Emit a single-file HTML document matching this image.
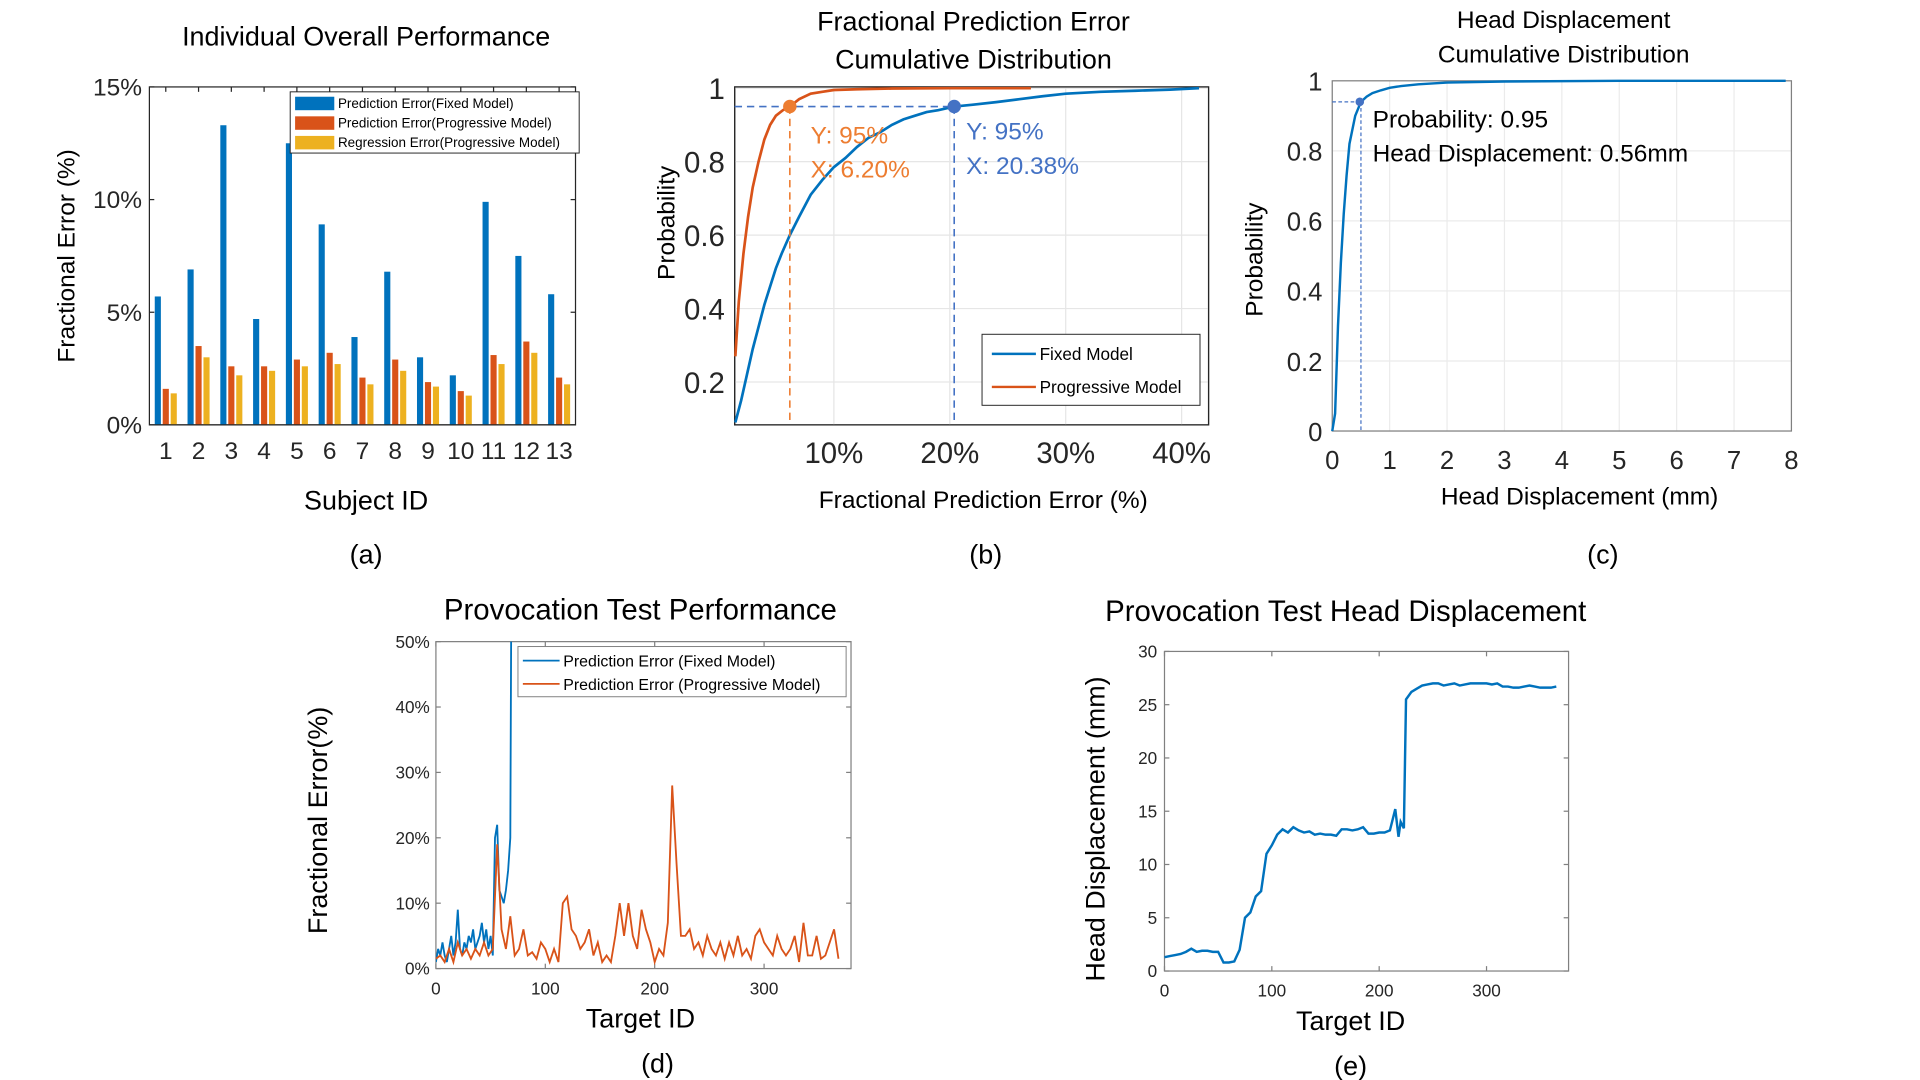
<!DOCTYPE html>
<html><head><meta charset="utf-8"><style>
html,body{margin:0;padding:0;background:#fff;}
svg{display:block;font-family:"Liberation Sans",sans-serif;}
.t{font-family:"Liberation Sans",sans-serif;fill:#000;}
.tk{fill:#262626;}
</style></head><body>
<svg id="fig" width="1920" height="1080" viewBox="0 0 1568 882" preserveAspectRatio="none" xmlns="http://www.w3.org/2000/svg"></svg>
<script>
// ---- Panel (a) data ----
const subjects = ["1","2","3","4","5","6","7","8","9","10","11","12","13"];
const fixedErr = [5.7,6.9,13.3,4.7,12.5,8.9,3.9,6.8,3.0,2.2,9.9,7.5,5.8];
const progErr  = [1.6,3.5,2.6,2.6,2.9,3.2,2.1,2.9,1.9,1.5,3.1,3.7,2.1];
const regrErr  = [1.4,3.0,2.2,2.4,2.6,2.7,1.8,2.4,1.7,1.3,2.7,3.2,1.8];
const aTicks = [0,5,10,15];
// ---- Panel (b) data ----
const bFixedX = [1.5,2,2.5,3,3.5,4,4.5,5,5.5,6.2,7,8,9,10,11,12,13,14,15,16,17,18,19,20.38,22,24,26,28,30,33,36,39,41.5];
const bFixedY = [0.09,0.15,0.22,0.29,0.35,0.41,0.46,0.51,0.55,0.6,0.65,0.71,0.75,0.785,0.81,0.84,0.865,0.88,0.9,0.915,0.925,0.935,0.94,0.95,0.955,0.962,0.97,0.978,0.985,0.99,0.993,0.996,1.0];
const bProgX = [1.5,1.8,2.2,2.6,3.0,3.5,4.0,4.5,5.0,5.6,6.2,7,8,9,10,12,15,20,27];
const bProgY = [0.27,0.42,0.55,0.65,0.73,0.8,0.86,0.9,0.925,0.94,0.95,0.97,0.985,0.99,0.995,0.997,0.999,1.0,1.0];
const bXTicks = [10,20,30,40];
const bYTicks = [0.2,0.4,0.6,0.8,1];
// ---- Panel (c) data ----
const cX = [0,0.05,0.1,0.15,0.2,0.25,0.3,0.4,0.5,0.6,0.7,0.85,1,1.2,1.5,2,3,5,7.9];
const cY = [0,0.05,0.3,0.48,0.62,0.73,0.82,0.9,0.94,0.955,0.965,0.973,0.98,0.985,0.99,0.995,0.998,1,1];
const cXTicks = [0,1,2,3,4,5,6,7,8];
const cYTicks = [0,0.2,0.4,0.6,0.8,1];
// ---- Panel (d) data ----
const dProgIds = [0,4,8,12,16,20,24,28,32,36,40,44,48,52,56,60,64,68,72,76,80,84,88,92,96,100,104,108,112,116,120,124,128,132,136,140,144,148,152,156,160,164,168,172,176,180,184,188,192,196,200,204,208,212,216,220,224,228,232,236,240,244,248,252,256,260,264,268,272,276,280,284,288,292,296,300,304,308,312,316,320,324,328,332,336,340,344,348,352,356,360,364,368];
const dProgVals = [1.5,2,1,3,1,4,2,3,1.5,3,2,4,2,3,19,6,3,8,2,3,6,2,2.5,1.5,4,3,1,3,1,10,11,6,5,3,4,6,2,4,1,2,1,5,10,5,10,5,3,9,6,4,1,3,2,7,28,16,5,5,6,3,4,2,5,3,2,4,1.5,4,2,5,2,3,1.5,5,6,4,3,2,5,3,2,3,5,1,7,2,2,5,1.5,2,4,6,1.5];
const dFixedIds = [0,2,4,6,8,10,12,14,16,18,20,22,24,26,28,30,32,34,36,38,40,42,44,46,48,50,52,54,56,58,60,62,64,66,68,69];
const dFixedVals = [1,3,2,4,2,1,3,5,2,4,9,3,2,4,3,5,4,6,3,4,5,7,4,6,3,5,2,20,22,12,11,10,12,15,20,60];
const dXTicks = [0,100,200,300];
const dYTicks = [0,10,20,30,40,50];
// ---- Panel (e) data ----
const eIds = [0,5,10,15,20,25,30,35,40,45,50,55,60,65,70,75,80,85,90,95,100,105,110,115,120,125,130,135,140,145,150,155,160,165,170,175,180,185,190,195,200,205,210,215,218,220,223,225,230,235,240,245,250,255,260,265,270,275,280,285,290,295,300,305,310,315,320,325,330,335,340,345,350,355,360,365];
const eVals = [1.3,1.4,1.5,1.6,1.8,2.1,1.8,1.9,1.9,1.8,1.8,0.8,0.8,0.9,2,5,5.5,7,7.5,11,11.8,12.8,13.3,13,13.5,13.2,13,13.1,12.8,12.9,12.8,12.8,12.7,13.3,13.3,13.2,13.3,13.5,12.9,12.9,13,13,13.2,15.2,12.6,14,13.4,25.5,26.2,26.5,26.8,26.9,27,27,26.8,26.9,27,26.8,26.9,27,27,27,27,26.9,27,26.7,26.7,26.6,26.6,26.7,26.8,26.7,26.6,26.6,26.6,26.7];
const eXTicks = [0,100,200,300];
const eYTicks = [0,5,10,15,20,25,30];

const NS="http://www.w3.org/2000/svg";
const svg=document.getElementById('fig');
function mk(tag,attrs,parent,txt){const e=document.createElementNS(NS,tag);for(const k in attrs)e.setAttribute(k,attrs[k]);if(txt!==undefined)e.textContent=txt;(parent||svg).appendChild(e);return e;}
function lin(d0,d1,r0,r1){return v=>r0+(v-d0)*(r1-r0)/(d1-d0);}
function pathD(xs,ys,fx,fy){return xs.map((x,i)=>(i?'L':'M')+fx(x).toFixed(2)+','+fy(ys[i]).toFixed(2)).join('');}
const BLUE="#0072BD",ORANGE="#D95319",YELLOW="#EDB120";

// ===== Panel (a) =====
(function(){
 const g=mk('g',{});
 
 
 const L=122,R=470,T=71,B=347;
 const fy=lin(0,15,B,T);
 const band=(R-L)/subjects.length;
 const fx=i=>L+band*(i+0.5);
 let t=mk('text',{x:299,y:37,'text-anchor':'middle','font-size':22,class:'t'},g,'Individual Overall Performance');
 
 
 mk('rect',{x:L,y:T,width:R-L,height:B-T,fill:'#fff',stroke:'#262626','stroke-width':1},g);
 aTicks.forEach(v=>{
  mk('line',{x1:L,x2:L+4,y1:fy(v),y2:fy(v),stroke:'#262626'},g);
  mk('line',{x1:R,x2:R-4,y1:fy(v),y2:fy(v),stroke:'#262626'},g);
  const tl=mk('text',{x:L-6,y:fy(v)+7,'text-anchor':'end','font-size':20,class:'tk'},g,v+'%');
  
  
 });
 const bw=5;
 subjects.forEach((s,i)=>{
  mk('line',{x1:fx(i),x2:fx(i),y1:T,y2:T+4,stroke:'#262626'},g);
  const tl=mk('text',{x:fx(i),y:375,'text-anchor':'middle','font-size':20,class:'tk'},g,s);
  
  
  [[fixedErr,BLUE,-6.5],[progErr,ORANGE,0],[regrErr,YELLOW,6.5]].forEach(([arr,c,off])=>{
   const r=mk('rect',{x:fx(i)+off-bw/2,y:fy(arr[i]),width:bw,height:B-fy(arr[i]),fill:c},g);
   
   
  });
 });
 mk('line',{x1:L,x2:R,y1:B,y2:B,stroke:'#262626'},g);
 t=mk('text',{x:299,y:416,'text-anchor':'middle','font-size':22,class:'t'},g,'Subject ID');
 
 
 t=mk('text',{x:0,y:0,'text-anchor':'middle','font-size':20,class:'t',transform:'translate(61,209) rotate(-90)'},g,'Fractional Error (%)');
 
 
 t=mk('text',{x:299,y:460,'text-anchor':'middle','font-size':22,class:'t'},g,'(a)');
 
 
 const lg=mk('g',{},g);
 
 
 mk('rect',{x:237,y:75,width:236,height:50,fill:'#fff',stroke:'#262626','stroke-width':0.8},lg);
 [['Prediction Error(Fixed Model)',BLUE],['Prediction Error(Progressive Model)',ORANGE],['Regression Error(Progressive Model)',YELLOW]].forEach(([n,c],k)=>{
  const e=mk('g',{},lg);
  
  
  mk('rect',{x:241,y:79+k*16,width:32,height:11,fill:c},e);
  mk('text',{x:276,y:88+k*16,'font-size':11,class:'t'},e,n);
 });
})();

// ===== Panel (b) =====
(function(){
 const g=mk('g',{});
 
 
 const L=600,R=987,T=71,B=347;
 const fx=lin(10,40,681,965), fy=lin(0.2,1,312,72);
 let t=mk('text',{x:795,y:25,'text-anchor':'middle','font-size':22,class:'t'},g,'Fractional Prediction Error');
 
 
 mk('text',{x:795,y:56,'text-anchor':'middle','font-size':22,class:'t'},g,'Cumulative Distribution');
 mk('rect',{x:L,y:T,width:R-L,height:B-T,fill:'#fff',stroke:'#262626','stroke-width':1},g);
 bYTicks.forEach(v=>{
  mk('line',{x1:L,x2:R,y1:fy(v),y2:fy(v),stroke:'#e6e6e6'},g);
  const tl=mk('text',{x:L-8,y:fy(v)+9,'text-anchor':'end','font-size':24,class:'tk'},g,String(v));
  
  
 });
 bXTicks.forEach(v=>{
  mk('line',{x1:fx(v),x2:fx(v),y1:T,y2:B,stroke:'#e6e6e6'},g);
  const tl=mk('text',{x:fx(v),y:378,'text-anchor':'middle','font-size':24,class:'tk'},g,v+'%');
  
  
 });
 mk('rect',{x:L,y:T,width:R-L,height:B-T,fill:'none',stroke:'#262626','stroke-width':1},g);
 let p=mk('path',{d:pathD(bFixedX,bFixedY,fx,fy),fill:'none',stroke:BLUE,'stroke-width':2.2},g);
 
 
 p=mk('path',{d:pathD(bProgX,bProgY,fx,fy),fill:'none',stroke:ORANGE,'stroke-width':2.2},g);
 
 
 mk('line',{x1:L,x2:fx(20.38),y1:fy(0.95),y2:fy(0.95),stroke:'#4472C4','stroke-width':1.3,'stroke-dasharray':'6,4'},g);
 mk('line',{x1:fx(6.2),x2:fx(6.2),y1:fy(0.95),y2:B,stroke:'#ED7D31','stroke-width':1.3,'stroke-dasharray':'6,4'},g);
 mk('line',{x1:fx(20.38),x2:fx(20.38),y1:fy(0.95),y2:B,stroke:'#4472C4','stroke-width':1.3,'stroke-dasharray':'6,4'},g);
 let c=mk('circle',{cx:fx(6.2),cy:fy(0.95),r:5.5,fill:'#ED7D31'},g);
 
 
 c=mk('circle',{cx:fx(20.38),cy:fy(0.95),r:5.5,fill:'#4472C4'},g);
 
 
 t=mk('text',{x:662,y:117,'font-size':20,fill:'#ED7D31'},g,'Y: 95%');
 
 
 mk('text',{x:662,y:145,'font-size':20,fill:'#ED7D31'},g,'X: 6.20%');
 t=mk('text',{x:789,y:114,'font-size':20,fill:'#4472C4'},g,'Y: 95%');
 
 
 mk('text',{x:789,y:142,'font-size':20,fill:'#4472C4'},g,'X: 20.38%');
 t=mk('text',{x:803,y:415,'text-anchor':'middle','font-size':20,class:'t'},g,'Fractional Prediction Error (%)');
 
 
 t=mk('text',{x:0,y:0,'text-anchor':'middle','font-size':20,class:'t',transform:'translate(551,182) rotate(-90)'},g,'Probability');
 
 
 t=mk('text',{x:805,y:460,'text-anchor':'middle','font-size':22,class:'t'},g,'(b)');
 
 
 const lg=mk('g',{},g);
 
 
 mk('rect',{x:802,y:273,width:178,height:58,fill:'#fff',stroke:'#262626','stroke-width':0.8},lg);
 [['Fixed Model',BLUE],['Progressive Model',ORANGE]].forEach(([n,c2],k)=>{
  const e=mk('g',{},lg);
  
  
  mk('line',{x1:810,x2:846,y1:289+k*27,y2:289+k*27,stroke:c2,'stroke-width':2},e);
  mk('text',{x:849,y:294+k*27,'font-size':14,class:'t'},e,n);
 });
})();

// ===== Panel (c) =====
(function(){
 const g=mk('g',{});
 
 
 const L=1088,R=1463,T=66,B=352;
 const fx=lin(0,8,L,R), fy=lin(0,1,B,T);
 let t=mk('text',{x:1277,y:23,'text-anchor':'middle','font-size':20,class:'t'},g,'Head Displacement');
 
 
 mk('text',{x:1277,y:51,'text-anchor':'middle','font-size':20,class:'t'},g,'Cumulative Distribution');
 mk('rect',{x:L,y:T,width:R-L,height:B-T,fill:'#fff'},g);
 cYTicks.forEach(v=>{
  mk('line',{x1:L,x2:R,y1:fy(v),y2:fy(v),stroke:'#ebebeb'},g);
  const tl=mk('text',{x:L-8,y:fy(v)+8,'text-anchor':'end','font-size':21,class:'tk'},g,String(v));
  
  
 });
 cXTicks.forEach(v=>{
  mk('line',{x1:fx(v),x2:fx(v),y1:T,y2:B,stroke:'#ebebeb'},g);
  const tl=mk('text',{x:fx(v),y:383,'text-anchor':'middle','font-size':21,class:'tk'},g,String(v));
  
  
 });
 mk('rect',{x:L,y:T,width:R-L,height:B-T,fill:'none',stroke:'#808080','stroke-width':1},g);
 let p=mk('path',{d:pathD(cX,cY,fx,fy),fill:'none',stroke:BLUE,'stroke-width':2},g);
 
 
 mk('line',{x1:L,x2:fx(0.5),y1:fy(0.94),y2:fy(0.94),stroke:'#4472C4','stroke-width':1,'stroke-dasharray':'3,2'},g);
 mk('line',{x1:fx(0.5),x2:fx(0.5),y1:fy(0.94),y2:B,stroke:'#4472C4','stroke-width':1,'stroke-dasharray':'3,2'},g);
 let c=mk('circle',{cx:fx(0.48),cy:fy(0.94),r:3.5,fill:'#4472C4'},g);
 
 
 t=mk('text',{x:1121,y:104,'font-size':20,class:'t'},g,'Probability: 0.95');
 
 
 mk('text',{x:1121,y:132,'font-size':20,class:'t'},g,'Head Displacement: 0.56mm');
 t=mk('text',{x:1290,y:412,'text-anchor':'middle','font-size':20,class:'t'},g,'Head Displacement (mm)');
 
 
 t=mk('text',{x:0,y:0,'text-anchor':'middle','font-size':20,class:'t',transform:'translate(1031,212) rotate(-90)'},g,'Probability');
 
 
 t=mk('text',{x:1309,y:460,'text-anchor':'middle','font-size':22,class:'t'},g,'(c)');
 
 
})();

// ===== Panel (d) =====
(function(){
 const g=mk('g',{});
 
 
 const L=356,R=695,T=524,B=791;
 const fx=lin(0,300,L,624), fy=lin(0,50,B,T);
 mk('defs',{},g).innerHTML='<clipPath id="clipd"><rect x="'+L+'" y="'+T+'" width="'+(R-L)+'" height="'+(B-T)+'"/></clipPath>';
 let t=mk('text',{x:523,y:506,'text-anchor':'middle','font-size':24,class:'t'},g,'Provocation Test Performance');
 
 
 mk('rect',{x:L,y:T,width:R-L,height:B-T,fill:'#fff',stroke:'#808080','stroke-width':1},g);
 dYTicks.forEach(v=>{
  mk('line',{x1:L,x2:L+4,y1:fy(v),y2:fy(v),stroke:'#808080'},g);
  mk('line',{x1:R,x2:R-4,y1:fy(v),y2:fy(v),stroke:'#808080'},g);
  const tl=mk('text',{x:L-5,y:fy(v)+5,'text-anchor':'end','font-size':14,class:'tk'},g,v+'%');
  
  
 });
 dXTicks.forEach(v=>{
  mk('line',{x1:fx(v),x2:fx(v),y1:B,y2:B-4,stroke:'#808080'},g);
  mk('line',{x1:fx(v),x2:fx(v),y1:T,y2:T+4,stroke:'#808080'},g);
  const tl=mk('text',{x:fx(v),y:812,'text-anchor':'middle','font-size':14,class:'tk'},g,String(v));
  
  
 });
 const cg=mk('g',{'clip-path':'url(#clipd)'},g);
 let p=mk('path',{d:pathD(dFixedIds,dFixedVals,fx,fy),fill:'none',stroke:BLUE,'stroke-width':1.5},cg);
 
 
 p=mk('path',{d:pathD(dProgIds,dProgVals,fx,fy),fill:'none',stroke:ORANGE,'stroke-width':1.5},cg);
 
 
 t=mk('text',{x:523,y:839,'text-anchor':'middle','font-size':22,class:'t'},g,'Target ID');
 
 
 t=mk('text',{x:0,y:0,'text-anchor':'middle','font-size':22,class:'t',transform:'translate(267,670) rotate(-90)'},g,'Fractional Error(%)');
 
 
 t=mk('text',{x:537,y:876,'text-anchor':'middle','font-size':22,class:'t'},g,'(d)');
 
 
 const lg=mk('g',{},g);
 
 
 mk('rect',{x:423,y:528,width:268,height:41,fill:'#fff',stroke:'#808080','stroke-width':0.8},lg);
 [['Prediction Error (Fixed Model)',BLUE],['Prediction Error (Progressive Model)',ORANGE]].forEach(([n,c2],k)=>{
  const e=mk('g',{},lg);
  
  
  mk('line',{x1:427,x2:457,y1:539.5+k*19,y2:539.5+k*19,stroke:c2,'stroke-width':1.5},e);
  mk('text',{x:460,y:544.5+k*19,'font-size':13,class:'t'},e,n);
 });
})();

// ===== Panel (e) =====
(function(){
 const g=mk('g',{});
 
 
 const L=951,R=1281,T=532,B=793;
 const fx=lin(0,300,L,1214), fy=lin(0,30,B,T);
 let t=mk('text',{x:1099,y:507,'text-anchor':'middle','font-size':24,class:'t'},g,'Provocation Test Head Displacement');
 
 
 mk('rect',{x:L,y:T,width:R-L,height:B-T,fill:'#fff',stroke:'#808080','stroke-width':1},g);
 eYTicks.forEach(v=>{
  mk('line',{x1:L,x2:L+4,y1:fy(v),y2:fy(v),stroke:'#808080'},g);
  mk('line',{x1:R,x2:R-4,y1:fy(v),y2:fy(v),stroke:'#808080'},g);
  const tl=mk('text',{x:L-6,y:fy(v)+5,'text-anchor':'end','font-size':14,class:'tk'},g,String(v));
  
  
 });
 eXTicks.forEach(v=>{
  mk('line',{x1:fx(v),x2:fx(v),y1:B,y2:B-4,stroke:'#808080'},g);
  mk('line',{x1:fx(v),x2:fx(v),y1:T,y2:T+4,stroke:'#808080'},g);
  const tl=mk('text',{x:fx(v),y:814,'text-anchor':'middle','font-size':14,class:'tk'},g,String(v));
  
  
 });
 let p=mk('path',{d:pathD(eIds,eVals,fx,fy),fill:'none',stroke:BLUE,'stroke-width':2},g);
 
 
 t=mk('text',{x:1103,y:841,'text-anchor':'middle','font-size':22,class:'t'},g,'Target ID');
 
 
 t=mk('text',{x:0,y:0,'text-anchor':'middle','font-size':22,class:'t',transform:'translate(902,677) rotate(-90)'},g,'Head Displacement (mm)');
 
 
 t=mk('text',{x:1103,y:878,'text-anchor':'middle','font-size':22,class:'t'},g,'(e)');
 
 
})();
</script>
</body></html>
